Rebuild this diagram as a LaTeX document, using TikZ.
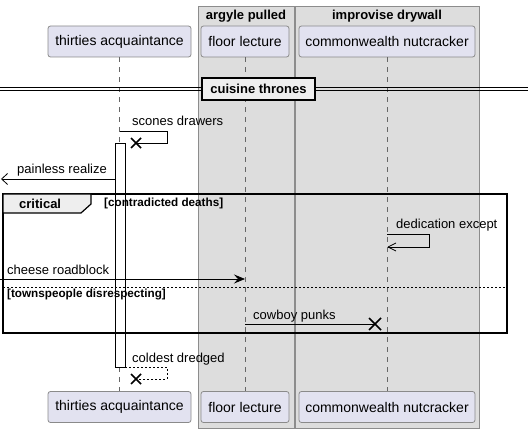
\documentclass[tikz,border=0pt]{standalone}
\usepackage{fontspec}
\setmainfont{Liberation Sans}
\usetikzlibrary{arrows.meta,calc}
\definecolor{partfill}{HTML}{E2E2F0}
\definecolor{partline}{HTML}{8A8A8A}
\definecolor{boxfill}{HTML}{DDDDDD}
\definecolor{boxline}{HTML}{8C8C8C}
\definecolor{tabfill}{HTML}{EEEEEE}
\tikzset{
  part/.style={draw=partline, fill=partfill, rounded corners=2.5pt, line width=0.8pt,
    minimum height=31pt, inner sep=0pt, font=\fontsize{14pt}{16pt}\selectfont},
  grp/.style={draw=boxline, fill=boxfill, line width=0.8pt},
  grptitle/.style={anchor=base, font=\bfseries\fontsize{13pt}{15pt}\selectfont, inner sep=0pt},
  life/.style={draw=gray!80!black, dash pattern=on 5pt off 5pt, line width=0.6pt},
  msgtext/.style={anchor=base west, inner sep=0pt, font=\fontsize{13pt}{15pt}\selectfont},
  msg/.style={line width=0.8pt},
  guard/.style={anchor=base west, inner sep=0pt, font=\bfseries\fontsize{11.7pt}{13pt}\selectfont},
  xmark/.style={line width=1.6pt},
  filledtip/.style={-{Stealth[length=11pt,width=9pt,inset=4pt]}},
  opentip/.style={-{Straight Barb[length=6pt,width=11pt]}},
}
\begin{document}
\begin{tikzpicture}[x=1pt,y=-1pt]
\useasboundingbox (0,0) rectangle (528,433);
% group boxes
\draw[grp] (198,6) rectangle (294,428);
\draw[grp] (295,6) rectangle (479,428);
\node[grptitle] (g1) at (246,19.5) {argyle pulled};
\node[grptitle] (g2) at (387,19.5) {improvise drywall};
% participants
\node[part, minimum width=143pt] (ta) at (119.5,41.5) {thirties acquaintance};
\node[part, minimum width=88pt] (fl) at (245,41.5) {floor lecture};
\node[part, minimum width=176pt] (cn) at (387,41.5) {commonwealth nutcracker};
\node[part, minimum width=143pt] (tab) at (119.5,407) {thirties acquaintance};
\node[part, minimum width=88pt] (flb) at (245,407) {floor lecture};
\node[part, minimum width=176pt] (cnb) at (387,407) {commonwealth nutcracker};
% lifelines
\draw[life] (ta.south) -- (tab.north);
\draw[life] (fl.south) -- (flb.north);
\draw[life] (cn.south) -- (cnb.north);
% divider
\draw[line width=0.8pt] (0,87.3) -- (528,87.3);
\draw[line width=0.8pt] (0,90.7) -- (528,90.7);
\node[draw=black, line width=1.6pt, fill=tabfill, minimum width=113pt, minimum height=22pt,
  inner sep=0pt, font=\bfseries\fontsize{13pt}{15pt}\selectfont] (div) at (258.5,89) {cuisine thrones};
% activation
\draw[fill=white, line width=0.8pt] (115,143) rectangle (125,367);
% critical frame
\draw[line width=1.5pt] (3,194) rectangle (507,333);
\draw[fill=tabfill, line width=1.2pt] (3,194) -- (91,194) -- (91,204) -- (81,213) -- (3,213) -- cycle;
\node[anchor=base west, inner sep=0pt, font=\bfseries\fontsize{13pt}{15pt}\selectfont] (crit) at (19,209) {critical};
\node[guard] (g3) at (104,206.5) {[contradicted deaths]};
\draw[line width=0.7pt, dash pattern=on 2pt off 2pt] (3,287.5) -- (507,287.5);
\node[guard] (g4) at (7,297.5) {[townspeople disrespecting]};
% scones drawers (self, destroy)
\coordinate (s1a) at (120,131);
\coordinate (s1b) at (167,131);
\coordinate (s1c) at (167,143);
\coordinate (s1x) at (136,143);
\draw[msg] (s1a) -- (s1b) -- (s1c) -- (s1x);
\draw[xmark] ($(s1x)+(-5,-5)$) -- ($(s1x)+(5,5)$) ($(s1x)+(-5,5)$) -- ($(s1x)+(5,-5)$);
\node[msgtext] (t1) at (132,126) {scones drawers};
% painless realize
\coordinate (p1a) at (115,179);
\coordinate (p1b) at (1,179);
\draw[msg, opentip] (p1a) -- (p1b);
\node[msgtext] (t2) at (17,174) {painless realize};
% dedication except
\coordinate (d1a) at (387,234);
\coordinate (d1b) at (429,234);
\coordinate (d1c) at (429,247);
\coordinate (d1d) at (388,247);
\draw[msg] (d1a) -- (d1b) -- (d1c) -- (d1d);
\draw[line width=0.8pt] (d1d) -- +(8,-4) (d1d) -- +(8,4);
\node[msgtext] (t3) at (396,229) {dedication except};
% cheese roadblock
\coordinate (c1a) at (0,279);
\coordinate (c1b) at (245,279);
\draw[msg, filledtip] (c1a) -- (c1b);
\node[msgtext] (t4) at (7,274) {cheese roadblock};
% cowboy punks
\coordinate (k1a) at (245,324);
\coordinate (k1x) at (375,324);
\draw[msg] (k1a) -- (k1x);
\draw[xmark] ($(k1x)+(-6,-6)$) -- ($(k1x)+(6,6)$) ($(k1x)+(-6,6)$) -- ($(k1x)+(6,-6)$);
\node[msgtext] (t5) at (253,319) {cowboy punks};
% coldest dredged
\coordinate (e1a) at (125,367);
\coordinate (e1b) at (167,367);
\coordinate (e1c) at (167,379);
\coordinate (e1x) at (136,379);
\draw[msg, line width=0.7pt, dash pattern=on 2pt off 2pt] (e1a) -- (e1b) -- (e1c) -- (e1x);
\draw[xmark] ($(e1x)+(-5,-5)$) -- ($(e1x)+(5,5)$) ($(e1x)+(-5,5)$) -- ($(e1x)+(5,-5)$);
\node[msgtext] (t6) at (132,362) {coldest dredged};
\end{tikzpicture}
\end{document}
